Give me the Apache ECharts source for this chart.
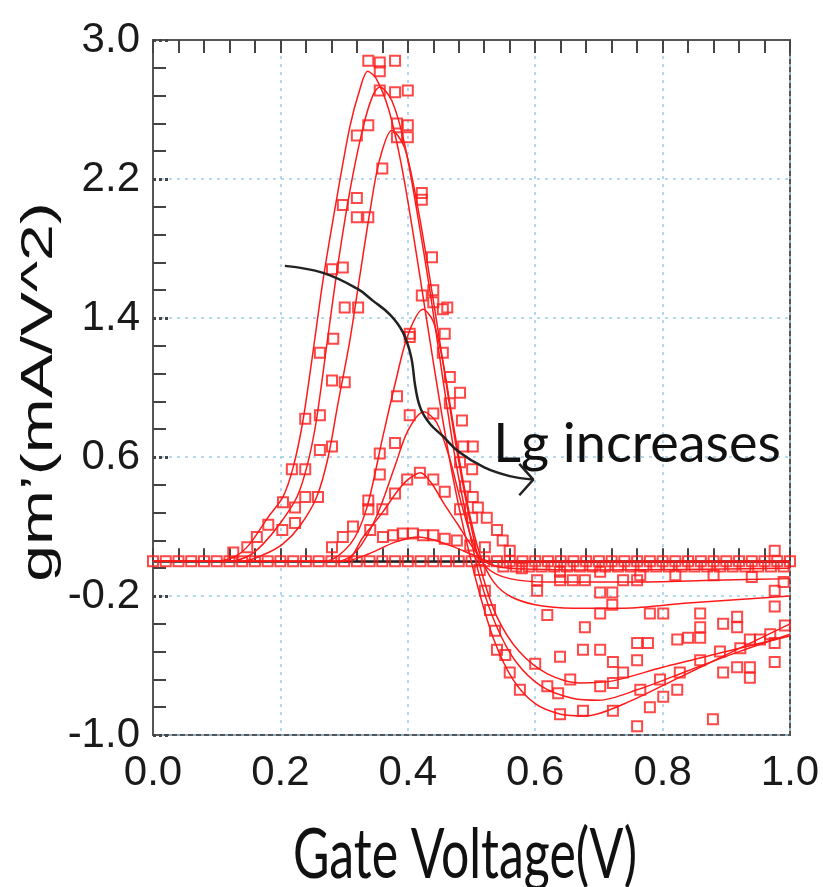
<!DOCTYPE html>
<html>
<head>
<meta charset="utf-8">
<script src="https://cdn.jsdelivr.net/npm/echarts@6/dist/echarts.min.js"></script>
<style>
  html, body { margin: 0; padding: 0; background: #fff; }
  #main { width: 823px; height: 887px; }
</style>
</head>
<body>
<div id="main"></div>
<script>
// fitted curves, [gate voltage, gm']
var fitA = [[0.00,0.0],[0.10,0.0],[0.13,0.03],[0.152,0.10],[0.18,0.25],[0.204,0.37],[0.22,0.54],[0.235,0.80],[0.251,1.20],[0.267,1.62],[0.289,2.10],[0.309,2.50],[0.325,2.72],[0.337,2.82],[0.35,2.78],[0.37,2.60],[0.39,2.28],[0.41,1.85],[0.43,1.38],[0.45,0.92],[0.47,0.50],[0.49,0.15],[0.51,-0.15],[0.535,-0.45],[0.565,-0.68],[0.60,-0.82],[0.64,-0.88],[0.68,-0.89],[0.74,-0.82],[0.82,-0.68],[0.91,-0.52],[1.00,-0.36]];
var fitB = [[0.00,0.0],[0.12,0.0],[0.15,0.03],[0.173,0.10],[0.20,0.22],[0.226,0.37],[0.242,0.55],[0.256,0.80],[0.273,1.25],[0.29,1.70],[0.31,2.15],[0.33,2.50],[0.345,2.68],[0.356,2.73],[0.375,2.65],[0.395,2.40],[0.415,2.00],[0.435,1.55],[0.455,1.05],[0.475,0.58],[0.495,0.20],[0.515,-0.12],[0.54,-0.38],[0.57,-0.58],[0.61,-0.72],[0.66,-0.79],[0.70,-0.80],[0.76,-0.74],[0.84,-0.63],[0.92,-0.52],[1.00,-0.42]];
var fitC = [[0.00,0.0],[0.14,0.0],[0.175,0.04],[0.204,0.10],[0.23,0.20],[0.257,0.37],[0.275,0.60],[0.29,0.90],[0.309,1.27],[0.325,1.65],[0.34,2.00],[0.355,2.30],[0.375,2.48],[0.395,2.38],[0.415,2.05],[0.435,1.62],[0.455,1.15],[0.475,0.68],[0.495,0.28],[0.515,-0.05],[0.54,-0.32],[0.575,-0.52],[0.62,-0.65],[0.67,-0.70],[0.72,-0.69],[0.80,-0.61],[0.90,-0.52],[1.00,-0.43]];
var fitD = [[0.00,0.0],[0.27,0.0],[0.31,0.10],[0.335,0.30],[0.361,0.72],[0.38,1.02],[0.40,1.30],[0.424,1.45],[0.44,1.38],[0.455,1.15],[0.47,0.82],[0.485,0.50],[0.50,0.22],[0.515,0.02],[0.535,-0.12],[0.56,-0.20],[0.60,-0.25],[0.66,-0.27],[0.74,-0.27],[0.84,-0.24],[0.92,-0.22],[1.00,-0.20]];
var fitE = [[0.00,0.0],[0.29,0.0],[0.32,0.06],[0.35,0.25],[0.38,0.55],[0.40,0.75],[0.425,0.86],[0.445,0.80],[0.465,0.60],[0.485,0.32],[0.505,0.08],[0.525,-0.04],[0.56,-0.10],[0.62,-0.12],[0.75,-0.12],[0.88,-0.11],[1.00,-0.10]];
var fitF = [[0.00,0.0],[0.30,0.0],[0.33,0.14],[0.36,0.28],[0.383,0.40],[0.40,0.47],[0.42,0.51],[0.437,0.45],[0.457,0.33],[0.477,0.22],[0.498,0.10],[0.52,0.0],[0.56,-0.04],[0.70,-0.05],[1.00,-0.04]];
var fitG = [[0.00,0.0],[0.30,0.0],[0.337,0.04],[0.38,0.11],[0.417,0.14],[0.467,0.09],[0.50,0.04],[0.53,0.0],[1.00,0.0]];
var blackBase = [[0.30,0.0],[1.00,0.0]];

// measured points
var peakPts = [[0.338,2.88],[0.356,2.87],[0.380,2.88],[0.356,2.82],[0.356,2.71],[0.380,2.70],[0.400,2.71],[0.338,2.51],[0.320,2.45],[0.383,2.52],[0.400,2.51],[0.383,2.44],[0.400,2.44],[0.360,2.26],[0.422,2.12],[0.422,2.08],[0.298,2.05],[0.320,2.09],[0.320,1.98],[0.338,1.98],[0.438,1.75],[0.298,1.69],[0.281,1.68],[0.422,1.53],[0.440,1.56],[0.440,1.49],[0.301,1.46],[0.322,1.46],[0.462,1.46],[0.283,1.28],[0.403,1.31],[0.458,1.31],[0.262,1.20],[0.281,1.04],[0.301,1.03],[0.239,0.82],[0.262,0.84],[0.262,0.64],[0.281,0.66],[0.218,0.53],[0.239,0.53],[0.204,0.34],[0.223,0.31],[0.239,0.37],[0.259,0.37],[0.181,0.21],[0.203,0.18],[0.223,0.22],[0.163,0.14],[0.148,0.08],[0.126,0.05],
  [0.455,1.45],[0.455,1.20],[0.466,1.06],[0.482,0.97],[0.466,0.91],[0.485,0.81],[0.487,0.66],[0.502,0.66],[0.482,0.57],[0.501,0.53],[0.490,0.43],[0.502,0.37],[0.510,0.31],[0.524,0.25],[0.540,0.18],[0.549,0.12],[0.560,0.06],
  [0.338,0.35],[0.356,0.50],[0.356,0.62],[0.380,0.68],[0.383,0.95],[0.403,1.29],[0.403,0.84],[0.440,0.85],[0.338,0.30],[0.360,0.30],[0.380,0.39],[0.399,0.47],[0.419,0.51],[0.440,0.47],[0.458,0.40],[0.482,0.30],[0.501,0.25],[0.314,0.20],[0.298,0.14],[0.281,0.08],[0.341,0.18],
  [0.361,0.14],[0.377,0.15],[0.392,0.16],[0.408,0.16],[0.424,0.15],[0.440,0.15],[0.458,0.13],[0.477,0.12],[0.498,0.09],[0.521,0.08]];
var tailPts = [[0.579,-0.04],[0.603,-0.11],[0.603,-0.17],[0.619,-0.31],[0.639,-0.11],[0.659,-0.11],[0.678,-0.11],[0.639,-0.55],[0.678,-0.38],[0.675,-0.51],[0.702,-0.51],[0.702,-0.18],[0.702,-0.30],[0.721,-0.18],[0.721,-0.25],[0.722,-0.58],[0.738,-0.11],[0.760,-0.11],[0.760,-0.47],[0.777,-0.47],[0.760,-0.57],[0.780,-0.30],[0.801,-0.30],[0.823,-0.45],[0.840,-0.44],[0.859,-0.30],[0.859,-0.38],[0.859,-0.44],[0.895,-0.36],[0.917,-0.32],[0.917,-0.38],[0.895,-0.64],[0.917,-0.61],[0.937,-0.61],[0.937,-0.67],[0.976,-0.58],[0.976,-0.47],[0.976,-0.26],[0.976,0.06],[0.976,-0.17],
  [0.619,-0.72],[0.600,-0.59],[0.636,-0.76],[0.639,-0.88],[0.675,-0.86],[0.722,-0.86],[0.760,-0.95],[0.780,-0.84],[0.801,-0.78],[0.823,-0.74],[0.879,-0.91],[0.576,-0.74],[0.560,-0.64],[0.540,-0.51],[0.738,-0.64],[0.702,-0.72],[0.722,-0.70],[0.655,-0.68],
  [0.513,-0.05],[0.521,-0.17],[0.529,-0.28],[0.537,-0.40],[0.553,-0.54],[0.937,-0.45],[0.953,-0.45],[0.922,-0.50],[0.969,-0.42],[0.992,-0.37],[0.859,-0.57],[0.890,-0.52],[0.827,-0.64],[0.796,-0.68],[0.765,-0.74],
  [0.639,-0.06],[0.702,-0.06],[0.765,-0.08],[0.820,-0.08],[0.880,-0.08],[0.940,-0.09],[0.990,-0.12]];
var baseX = [0.00,0.02,0.04,0.06,0.08,0.10,0.12,0.14,0.16,0.18,0.20,0.22,0.24,0.26,0.28,0.30,0.32,0.34,0.36,0.38,0.40,0.42,0.44,0.46,0.48,0.50,0.52,0.54,0.56,0.58,0.60,0.62,0.64,0.66,0.68,0.70,0.72,0.74,0.76,0.78,0.80,0.82,0.84,0.86,0.88,0.90,0.92,0.94,0.96,0.98,1.00];
var baseX2 = [0.55,0.57,0.59,0.61,0.63,0.65,0.67,0.69,0.71,0.73,0.75,0.77,0.79,0.81,0.83,0.85,0.87,0.89,0.91,0.93,0.95,0.97,0.99];
var baseY = 0.0, baseY2 = -0.03;

// arrow "Lg increases"
var arrowPath = [[0.207,1.70],[0.267,1.66],[0.32,1.57],[0.345,1.50],[0.372,1.42],[0.392,1.32],[0.405,1.18],[0.412,1.00],[0.42,0.88],[0.435,0.79],[0.455,0.72],[0.48,0.63],[0.52,0.54],[0.56,0.49],[0.597,0.47]];
var arrowHead = [[0.575,0.56],[0.597,0.47],[0.575,0.38]];

var RED = '#ff1a1a';
var chart = echarts.init(document.getElementById('main'));

function fitSeries(d) {
  return { type: 'line', data: d, smooth: 0.3, symbol: 'none', lineStyle: { color: RED, width: 1.5 }, z: 3, silent: true };
}
function ptsSeries(d) {
  return { type: 'scatter', data: d, symbol: 'rect', symbolSize: 10,
    itemStyle: { color: 'rgba(255,255,255,0)', borderColor: RED, borderWidth: 2 }, z: 4, silent: true };
}

var tickFont = { fontFamily: 'Liberation Sans', fontSize: 42, color: '#1a1a1a' };

var option = {
  animation: false,
  backgroundColor: '#fff',
  grid: { left: 153, right: 33, top: 40, bottom: 152, show: true, borderColor: '#555', borderWidth: 2, backgroundColor: 'transparent' },
  xAxis: [
    {
      type: 'value', min: 0, max: 1, interval: 0.2, position: 'bottom',
      axisLine: { show: true, lineStyle: { color: '#555', width: 2 } },
      axisTick: { show: true, inside: true, length: 13, lineStyle: { color: '#444', width: 2 } },
      minorTick: { show: true, splitNumber: 5, length: 13, lineStyle: { color: '#444', width: 2 } },
      axisLabel: Object.assign({ margin: 17, formatter: function (v) { return v.toFixed(1); } }, tickFont),
      splitLine: { show: true, lineStyle: { color: '#9fcbe6', width: 1.5, type: [3, 5] } }
    },
    {
      type: 'value', min: 0, max: 1, interval: 0.2, position: 'top',
      axisLine: { show: true, lineStyle: { color: '#555', width: 2 } },
      axisTick: { show: true, inside: true, length: 13, lineStyle: { color: '#444', width: 2 } },
      minorTick: { show: true, splitNumber: 5, length: 13, lineStyle: { color: '#444', width: 2 } },
      axisLabel: { show: false },
      splitLine: { show: false }
    }
  ],
  yAxis: [
    {
      type: 'value', min: -1, max: 3, interval: 0.8,
      axisLine: { show: true, lineStyle: { color: '#555', width: 2 } },
      axisTick: { show: true, inside: true, length: 16, lineStyle: { color: '#444', width: 3, type: [3, 3] } },
      minorTick: { show: true, splitNumber: 5, length: 13, lineStyle: { color: '#444', width: 2 } },
      axisLabel: Object.assign({ margin: 13, formatter: function (v) { return v.toFixed(1); } }, tickFont),
      splitLine: { show: true, lineStyle: { color: '#9fcbe6', width: 1.5, type: [3, 5] } }
    }
  ],
  series: [
    { type: 'line', data: blackBase, symbol: 'none', lineStyle: { color: '#222', width: 2 }, z: 2, silent: true },
    fitSeries(fitA), fitSeries(fitB), fitSeries(fitC), fitSeries(fitD), fitSeries(fitE), fitSeries(fitF), fitSeries(fitG),
    ptsSeries(baseX.map(function (x) { return [x, baseY]; })),
    ptsSeries(baseX2.map(function (x) { return [x, baseY2]; })),
    ptsSeries(peakPts),
    ptsSeries(tailPts),
    { type: 'line', data: arrowPath, smooth: 0.4, symbol: 'none', lineStyle: { color: '#222', width: 2.5 }, z: 6, silent: true },
    { type: 'line', data: arrowHead, symbol: 'none', lineStyle: { color: '#222', width: 2.5 }, z: 6, silent: true }
  ]
};
chart.setOption(option);

var lgPos = chart.convertToPixel({ gridIndex: 0 }, [0.534, 0.67]);
chart.setOption({
  graphic: [
    { type: 'text', x: 40, y: 392, rotation: Math.PI / 2, scaleX: 1.5, z: 10,
      style: { text: 'gm’(mA/V^2)', fontFamily: 'Liberation Sans', fontSize: 44, fill: '#111', align: 'center', verticalAlign: 'middle' } },
    { type: 'text', x: 465, y: 855, scaleY: 1.4, z: 10,
      style: { text: 'Gate Voltage(V)', fontFamily: 'Lato', fontSize: 50, fill: '#111', align: 'center', verticalAlign: 'middle' } },
    { type: 'text', x: lgPos[0], y: lgPos[1], z: 10,
      style: { text: 'Lg increases', fontFamily: 'Lato', fontSize: 54, fill: '#111', align: 'left', verticalAlign: 'middle' } }
  ]
});
</script>
</body>
</html>
